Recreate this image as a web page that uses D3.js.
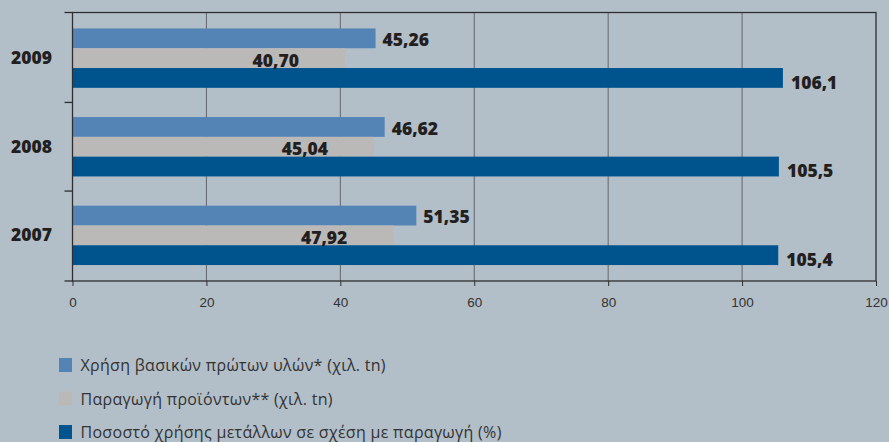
<!DOCTYPE html>
<html>
<head>
<meta charset="utf-8">
<script src="https://cdn.jsdelivr.net/npm/d3@7"></script>
<style>
  html, body { margin: 0; padding: 0; background: #b2bec8; }
  svg { display: block; font-family: "Open Sans", "Noto Sans", sans-serif; }
</style>
</head>
<body>
<svg id="chart"></svg>
<script>
// Values (top to bottom)
const years = ["2009", "2008", "2007"];
const rawUse = [45.26, 46.62, 51.35];       // Χρήση βασικών πρώτων υλών (χιλ. tn)
const production = [40.70, 45.04, 47.92];   // Παραγωγή προϊόντων (χιλ. tn)
const ratio = [106.1, 105.5, 105.4];        // Ποσοστό (%)
const rawUseLabels = ["45,26", "46,62", "51,35"];
const productionLabels = ["40,70", "45,04", "47,92"];
const ratioLabels = ["106,1", "105,5", "105,4"];
const xTicks = [0, 20, 40, 60, 80, 100, 120];
const legendLabels = [
  "Χρήση βασικών πρώτων υλών* (χιλ. tn)",
  "Παραγωγή προϊόντων** (χιλ. tn)",
  "Ποσοστό χρήσης μετάλλων σε σχέση με παραγωγή (%)"
];

const W = 889, H = 442;
const colors = ["#5483b6", "#bab9b8", "#00548e"];
const m = { top: 12.5, left: 72.5, right: 13, bottom: 161 };

const svg = d3.select("#chart").attr("width", W).attr("height", H);
svg.append("rect").attr("width", W).attr("height", H).attr("fill", "#b2bec8");

const x = d3.scaleLinear().domain([0, 120]).range([m.left, W - m.right]);
const y = d3.scaleBand().domain(years).range([m.top, H - m.bottom])
  .paddingInner(0.33).paddingOuter(0.18);
const sub = d3.scaleBand().domain([0, 1, 2]).range([0, y.bandwidth()]);

// Grid lines
svg.append("g")
  .selectAll("line")
  .data(xTicks.slice(1, -1))
  .join("line")
    .attr("x1", d => x(d)).attr("x2", d => x(d))
    .attr("y1", m.top).attr("y2", H - m.bottom)
    .attr("stroke", "#62676b").attr("stroke-width", 1);

// Bars
const series = [
  { values: rawUse, labels: rawUseLabels },
  { values: production, labels: productionLabels },
  { values: ratio, labels: ratioLabels }
];
series.forEach((s, i) => {
  svg.append("g")
    .selectAll("rect")
    .data(years)
    .join("rect")
      .attr("x", x(0))
      .attr("y", (d) => y(d) + sub(i))
      .attr("width", (d, j) => x(s.values[j]) - x(0))
      .attr("height", sub.bandwidth())
      .attr("fill", colors[i]);
});

// Frame
svg.append("rect")
  .attr("x", m.left).attr("y", m.top)
  .attr("width", x(120) - m.left).attr("height", H - m.bottom - m.top)
  .attr("fill", "none").attr("stroke", "#2e2e30").attr("stroke-width", 1.3);

// Bottom axis
const xAxis = svg.append("g")
  .attr("transform", `translate(0,${H - m.bottom})`)
  .call(d3.axisBottom(x).tickValues(xTicks).tickSize(5).tickPadding(11).tickFormat(d3.format("d")));
xAxis.select(".domain").remove();
xAxis.selectAll("line").attr("stroke", "#2e2e30");
xAxis.selectAll("text").attr("font-size", 13.5).attr("fill", "#333");

// Left axis ticks at category boundaries
const bounds = years.map(d => y(d) - y.step() * y.paddingInner() / 2);
bounds[0] = m.top;
bounds.push(H - m.bottom);
svg.append("g")
  .selectAll("line")
  .data(bounds)
  .join("line")
    .attr("x1", m.left - 8).attr("x2", m.left)
    .attr("y1", d => d).attr("y2", d => d)
    .attr("stroke", "#2e2e30").attr("stroke-width", 1.3);

// Year labels
svg.append("g")
  .selectAll("text")
  .data(years)
  .join("text")
    .attr("x", 52)
    .attr("y", d => y(d) + y.bandwidth() / 2 + 6)
    .attr("text-anchor", "end")
    .attr("font-size", 17.5).attr("font-weight", 800).attr("fill", "#231f20")
    .text(d => d);

// Value labels
const lab = svg.append("g").attr("font-size", 17.5).attr("font-weight", 800).attr("fill", "#231f20");
lab.selectAll(".l0").data(years).join("text")
  .attr("x", (d, j) => x(rawUse[j]) + 7)
  .attr("y", d => y(d) + sub(0) + sub.bandwidth() - 2)
  .text((d, j) => rawUseLabels[j]);
lab.selectAll(".l1").data(years).join("text")
  .attr("x", (d, j) => x(production[j]) - 46)
  .attr("y", d => y(d) + sub(1) + sub.bandwidth() - 1.5)
  .attr("text-anchor", "end")
  .text((d, j) => productionLabels[j]);
lab.selectAll(".l2").data(years).join("text")
  .attr("x", (d, j) => x(ratio[j]) + 8)
  .attr("y", d => y(d) + sub(2) + sub.bandwidth() + 1)
  .text((d, j) => ratioLabels[j]);

// Legend
const leg = svg.append("g").attr("transform", "translate(59,358)");
legendLabels.forEach((t, i) => {
  const g = leg.append("g").attr("transform", `translate(0,${i * 33.5})`);
  g.append("rect").attr("width", 13).attr("height", 14).attr("fill", colors[i]);
  g.append("text").attr("x", 21.5).attr("y", 13)
    .attr("font-size", 16).attr("letter-spacing", 0.3)
    .attr("fill", "#333").text(t);
});
</script>
</body>
</html>
